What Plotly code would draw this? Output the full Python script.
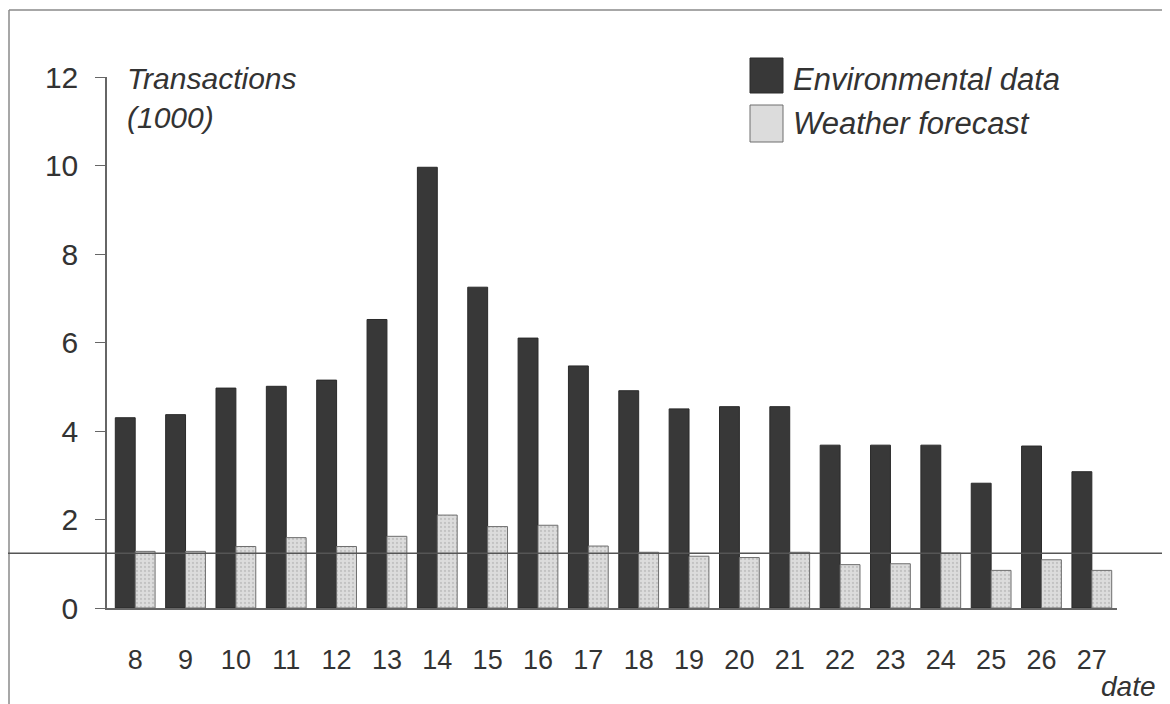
import plotly.graph_objects as go

# ---- data ----
dates = [8, 9, 10, 11, 12, 13, 14, 15, 16, 17, 18, 19, 20, 21, 22, 23, 24, 25, 26, 27]
environmental = [4.30, 4.37, 4.97, 5.01, 5.15, 6.52, 9.96, 7.25, 6.10, 5.47,
                 4.91, 4.50, 4.55, 4.55, 3.68, 3.68, 3.68, 2.82, 3.66, 3.08]
weather = [1.28, 1.28, 1.39, 1.59, 1.39, 1.62, 2.10, 1.84, 1.87, 1.40,
           1.26, 1.17, 1.14, 1.26, 0.98, 1.00, 1.24, 0.85, 1.09, 0.85]
y_ticks = [0, 2, 4, 6, 8, 10, 12]
reference_level = 1.24
series_names = ["Environmental data", "Weather forecast"]

# ---- layout constants (page body has an 8px margin) ----
OFF = 8
W, H = 1170 - OFF, 704 - OFF
ML, MT = 107 - OFF, 77 - OFF
PLOT_R, PLOT_B = 1117 - OFF, 608 - OFF
MR, MB = W - PLOT_R, H - PLOT_B
Y_MAX = 12
PW, PH = W - ML - MR, H - MT - MB

def px_x(px):
    """reference-picture x pixel -> paper fraction"""
    return (px - OFF - ML) / PW

def px_y(py):
    """reference-picture y pixel -> paper fraction"""
    return (H - MB - (py - OFF)) / PH

FONT = "Liberation Sans, Arial, sans-serif"
TXT = "#333333"
DARK = "#383838"
LIGHT_BG = "#dcdcdc"

fig = go.Figure()
fig.add_trace(go.Bar(
    x=dates, y=environmental, name=series_names[0],
    marker=dict(color=DARK, line=dict(color="#2a2a2a", width=1)),
    showlegend=False,
))
fig.add_trace(go.Bar(
    x=dates, y=weather, name=series_names[1],
    marker=dict(color=LIGHT_BG, line=dict(color="#6e6e6e", width=1),
                pattern=dict(shape=".", fgcolor="#a8a8a8", bgcolor=LIGHT_BG,
                             size=4, solidity=0.25)),
    showlegend=False,
))

shapes = []
# outer frame (left and top edges)
shapes.append(dict(type="line", xref="paper", yref="paper",
                   x0=px_x(9), x1=px_x(9), y0=px_y(10), y1=px_y(720),
                   line=dict(color="#8a8a8a", width=1.5)))
shapes.append(dict(type="line", xref="paper", yref="paper",
                   x0=px_x(9), x1=px_x(1180), y0=px_y(10), y1=px_y(10),
                   line=dict(color="#8a8a8a", width=1.5)))
# reference horizontal line across full width
shapes.append(dict(type="line", xref="paper", yref="paper", layer="above",
                   x0=px_x(OFF), x1=px_x(1180),
                   y0=reference_level / Y_MAX, y1=reference_level / Y_MAX,
                   line=dict(color="#555555", width=1.5)))
# legend swatches
shapes.append(dict(type="rect", xref="paper", yref="paper",
                   x0=px_x(750), x1=px_x(783), y0=px_y(93), y1=px_y(58),
                   fillcolor=DARK, line=dict(color="#2a2a2a", width=1)))
shapes.append(dict(type="rect", xref="paper", yref="paper",
                   x0=px_x(750), x1=px_x(783), y0=px_y(142), y1=px_y(105),
                   fillcolor=LIGHT_BG, line=dict(color="#6e6e6e", width=1)))

annotations = [
    dict(text="<i>Transactions<br>(1000)</i>", xref="paper", yref="paper",
         x=px_x(125), y=px_y(60), xanchor="left", yanchor="top", align="left",
         showarrow=False, font=dict(family=FONT, size=30, color=TXT)),
    dict(text="<i>" + series_names[0] + "</i>", xref="paper", yref="paper",
         x=px_x(791), y=px_y(80), xanchor="left", yanchor="middle",
         showarrow=False, font=dict(family=FONT, size=31, color=TXT)),
    dict(text="<i>" + series_names[1] + "</i>", xref="paper", yref="paper",
         x=px_x(791), y=px_y(123), xanchor="left", yanchor="middle",
         showarrow=False, font=dict(family=FONT, size=31, color=TXT)),
    dict(text="<i>date</i>", xref="paper", yref="paper",
         x=px_x(1158), y=px_y(686), xanchor="right", yanchor="middle",
         showarrow=False, font=dict(family=FONT, size=28, color=TXT)),
]

fig.update_layout(
    width=W, height=H,
    margin=dict(l=ML, r=MR, t=MT, b=MB, pad=0),
    paper_bgcolor="white", plot_bgcolor="white",
    barmode="group", bargap=0.21, bargroupgap=0,
    showlegend=False,
    shapes=shapes, annotations=annotations,
    font=dict(family=FONT, color=TXT),
)
fig.update_xaxes(
    range=[7.44, 27.5], tickvals=dates, ticktext=[str(d) for d in dates],
    showgrid=False, zeroline=False, showline=True, linecolor="#666666",
    linewidth=1.5, ticks="", ticklabelstandoff=27,
    tickfont=dict(family=FONT, size=27, color=TXT),
)
fig.update_yaxes(
    range=[0, Y_MAX], tickvals=y_ticks, showgrid=False, zeroline=False,
    showline=True, linecolor="#666666", linewidth=1.5,
    ticks="outside", ticklen=10, tickcolor="#666666", tickwidth=1,
    ticklabelstandoff=11,
    tickfont=dict(family=FONT, size=30, color=TXT),
)

fig.write_html("out.html")
